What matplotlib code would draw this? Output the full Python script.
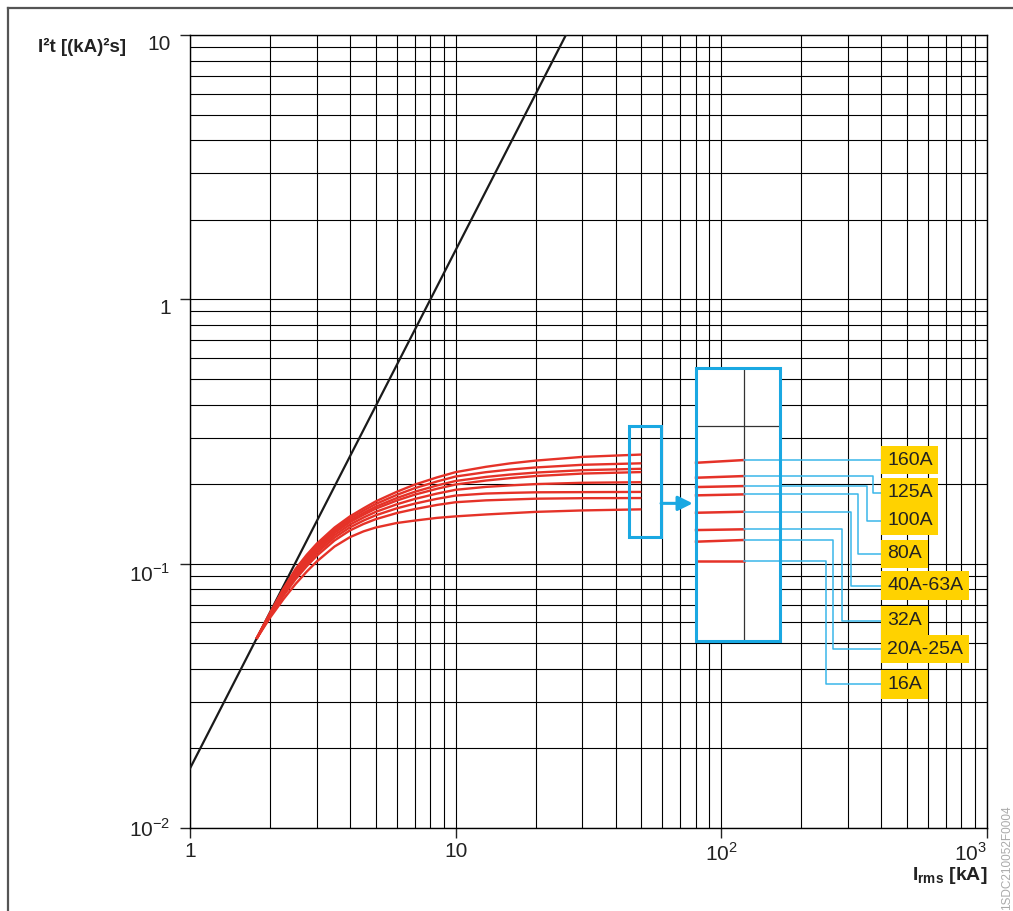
import matplotlib

matplotlib.use("Agg")
import matplotlib.pyplot as plt
from matplotlib.lines import Line2D
from matplotlib.patches import Rectangle

# let-through energy curves: Irms [kA] -> I2t [(kA)^2 s]
i_rms = [1.78, 2.0, 2.25, 2.5, 2.75, 3.0, 3.5, 4.0, 4.5, 5.0, 6.0, 7.0, 8.5, 10,
         13, 16, 20, 30, 50]
ratings = ["160A", "125A", "100A", "80A", "40A-63A", "32A", "20A-25A", "16A"]
i2t_160 = [0.052, 0.0650, 0.0807, 0.0957, 0.1080, 0.1190, 0.1370, 0.1510, 0.1620, 0.1720,
           0.1870, 0.1990, 0.2120, 0.2220, 0.2325, 0.2395, 0.2454, 0.2535, 0.2587]
i2t_125 = [0.052, 0.0648, 0.0800, 0.0945, 0.1064, 0.1172, 0.1348, 0.1483, 0.1588, 0.1681,
           0.1820, 0.1929, 0.2046, 0.2137, 0.2219, 0.2269, 0.2312, 0.2366, 0.2397]
i2t_100 = [0.052, 0.0645, 0.0792, 0.0932, 0.1049, 0.1153, 0.1326, 0.1457, 0.1556, 0.1643,
           0.1771, 0.1869, 0.1976, 0.2055, 0.2129, 0.2173, 0.2211, 0.2258, 0.2285]
i2t_80 = [0.052, 0.0643, 0.0786, 0.0923, 0.1037, 0.1140, 0.1308, 0.1436, 0.1531, 0.1614,
          0.1733, 0.1823, 0.1920, 0.1993, 0.2063, 0.2106, 0.2145, 0.2192, 0.2221]
i2t_40_63 = [0.052, 0.0640, 0.0777, 0.0908, 0.1019, 0.1118, 0.1282, 0.1405, 0.1495, 0.1570,
             0.1677, 0.1756, 0.1841, 0.1903, 0.1952, 0.1977, 0.2000, 0.2023, 0.2033]
i2t_32 = [0.052, 0.0636, 0.0768, 0.0893, 0.0999, 0.1096, 0.1255, 0.1372, 0.1456, 0.1524,
          0.1619, 0.1686, 0.1759, 0.1810, 0.1842, 0.1853, 0.1862, 0.1865, 0.1868]
i2t_20_25 = [0.052, 0.0632, 0.0757, 0.0875, 0.0978, 0.1071, 0.1224, 0.1336, 0.1413, 0.1473,
             0.1554, 0.1608, 0.1668, 0.1708, 0.1736, 0.1748, 0.1761, 0.1769, 0.1771]
i2t_16 = [0.052, 0.0624, 0.0735, 0.0839, 0.0933, 0.1019, 0.1161, 0.1260, 0.1325, 0.1370,
          0.1425, 0.1455, 0.1490, 0.1510, 0.1535, 0.1552, 0.1570, 0.1590, 0.1605]
curves = [i2t_160, i2t_125, i2t_100, i2t_80, i2t_40_63, i2t_32, i2t_20_25, i2t_16]

# prospective (unlimited) I2t line
line_i = [1, 26]
line_i2t = [0.0168, 10]

# magnified inset: level of each curve at the left / right end of the inset
inset_left = [0.2408, 0.2114, 0.1949, 0.1813, 0.1558, 0.1340, 0.1211, 0.1023]
inset_right = [0.2466, 0.2145, 0.1966, 0.1829, 0.1572, 0.1349, 0.1229, 0.1023]

# leader elbows (kA) and label levels
elbow_x = [401.5, 371.2, 352.5, 327.8, 306.9, 284.6, 263.9, 247.1]
label_y = [0.2466, 0.1855, 0.1454, 0.1088, 0.0825, 0.0608, 0.0475, 0.0350]

RED = "#e53228"
BLUE = "#1aa8e2"
GOLD = "#ffd200"

plt.rcParams["font.family"] = ["Liberation Sans", "DejaVu Sans"]
plt.rcParams["mathtext.fontset"] = "custom"
plt.rcParams["mathtext.rm"] = "Liberation Sans"
plt.rcParams["mathtext.bf"] = "Liberation Sans:bold"

fig = plt.figure(figsize=(10.13, 9.11), dpi=100)
ax = fig.add_axes([190 / 1013, 1 - 828 / 911, 797 / 1013, 793 / 911])
ax.set_xscale("log")
ax.set_yscale("log")
ax.set_xlim(1, 1000)
ax.set_ylim(0.01, 10)

ax.grid(True, which="both", color="black", lw=0.8)
ax.set_axisbelow(True)
for s in ax.spines.values():
    s.set_color("black")
    s.set_linewidth(1.0)

ax.set_xticks([1, 10, 100, 1000])
ax.set_xticklabels(["1", "10", r"$10^2$", r"$10^3$"])
ax.set_yticks([0.01, 0.1, 1, 10])
ax.set_yticklabels([r"$10^{-2}$", r"$10^{-1}$", "1", "10"])
ax.tick_params(which="minor", length=0)
ax.tick_params(which="major", length=7, width=1, direction="out", labelsize=15, colors="#222222")
ax.tick_params(axis="x", pad=3)
ax.tick_params(axis="y", pad=7)
xl = ax.get_xticklabels()
xl[-1].set_ha("right")
for lbl in ax.get_yticklabels()[1:]:
    lbl.set_va("top")

# prospective line and limited curves
ax.plot(line_i, line_i2t, color="#1a1a1a", lw=1.6, zorder=3)
for y in curves:
    ax.plot(i_rms, y, color=RED, lw=1.7, zorder=3, solid_capstyle="butt")

# zoom frame, arrow and magnified inset
ax.add_patch(Rectangle((45.0, 0.1258), 59.3 - 45.0, 0.3317 - 0.1258,
                       fill=False, ec=BLUE, lw=2.2, zorder=4))
ax.annotate("", xy=(78.0, 0.1691), xytext=(59.3, 0.1691),
            arrowprops=dict(arrowstyle="-|>", color=BLUE, lw=2.2,
                            mutation_scale=22, shrinkA=0, shrinkB=0), zorder=4)
ax.add_patch(Rectangle((80.3, 0.0511), 166.3 - 80.3, 0.548 - 0.0511,
                       fc="white", ec="none", zorder=4))
ax.plot([121.7, 121.7], [0.0511, 0.548], color="#333333", lw=0.9, zorder=5)
ax.plot([80.3, 166.3], [0.3317, 0.3317], color="#333333", lw=0.9, zorder=5)
for yl, yr in zip(inset_left, inset_right):
    ax.plot([80.3, 121.7], [yl, yr], color=RED, lw=1.8, zorder=6)

# leaders to rating labels
for yr, ex, ly, name in zip(inset_right, elbow_x, label_y, ratings):
    ax.plot([121.7, ex, ex, 401.5], [yr, yr, ly, ly], color="#3ab7e9", lw=1.1, zorder=7)
    ax.text(420.4, ly, name, ha="left", va="center", fontsize=14, color="#222222",
            zorder=8, bbox=dict(boxstyle="square,pad=0.3", fc=GOLD, ec="none"))

ax.add_patch(Rectangle((80.3, 0.0511), 166.3 - 80.3, 0.548 - 0.0511,
                       fill=False, ec=BLUE, lw=2.2, zorder=9))

# axis titles
fig.text(38 / 1013, 1 - 47 / 911, "I²t [(kA)²s]", fontsize=13.5, fontweight="bold",
         ha="left", va="center", color="#222222")
fig.text(987 / 1013, 1 - 876 / 911, r"$\mathbf{I}_{\mathbf{rms}}$ [kA]", fontsize=14,
         fontweight="bold", ha="right", va="center", color="#222222")
fig.text(1007 / 1013, 1 - 805 / 911, "1SDC210052F0004", rotation=90, fontsize=8.5,
         color="#aaaaaa", ha="center", va="top")

# outer frame
fig.add_artist(Line2D([8 / 1013, 1.0], [1 - 8 / 911, 1 - 8 / 911],
                      transform=fig.transFigure, color="#555555", lw=1.6))
fig.add_artist(Line2D([8 / 1013, 8 / 1013], [0.0, 1 - 8 / 911],
                      transform=fig.transFigure, color="#555555", lw=1.6))

fig.savefig("out.png", dpi=100)
